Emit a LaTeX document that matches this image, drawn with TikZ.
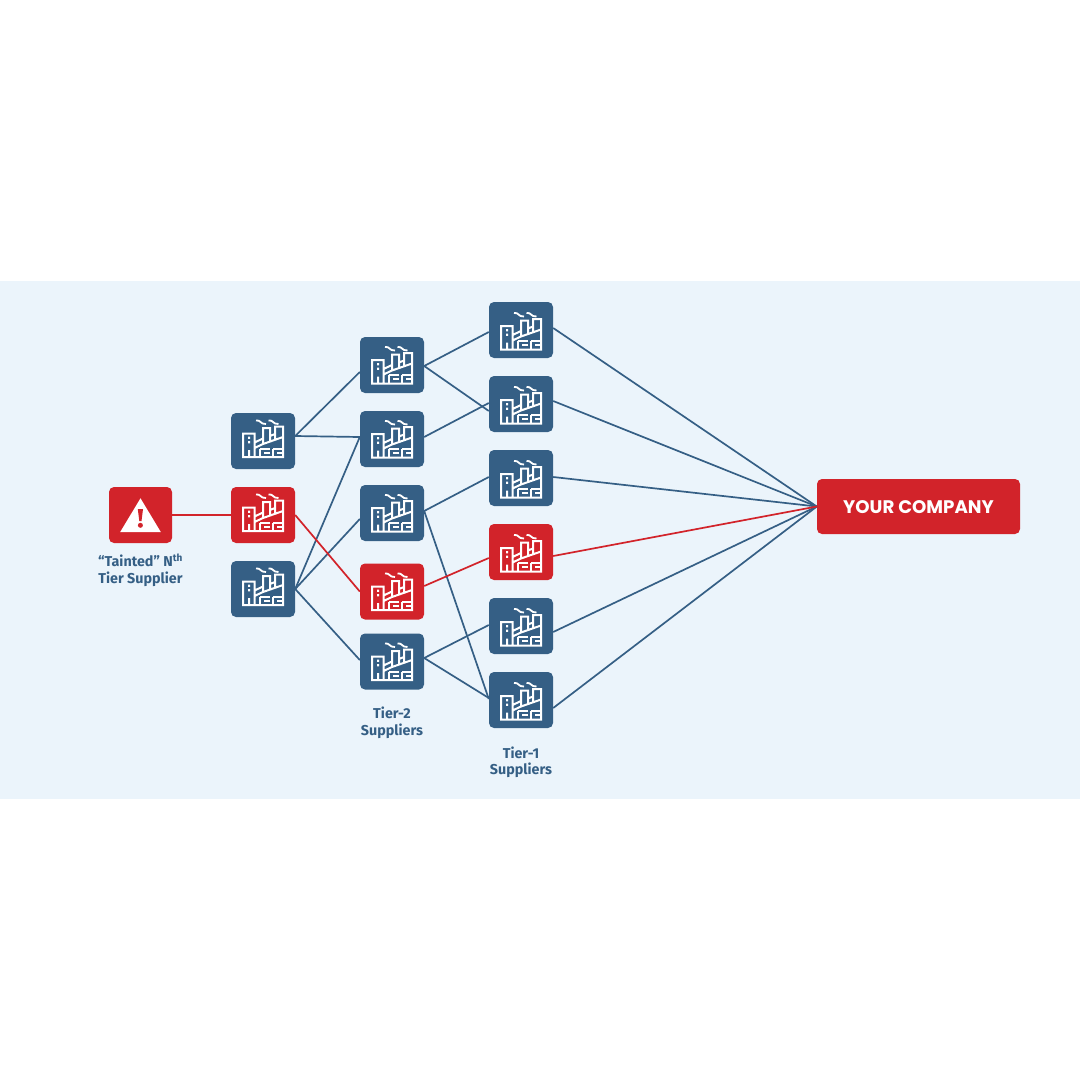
\documentclass[tikz,border=0pt]{standalone}
\usepackage{fontspec}
\setmainfont{Fira Sans}
\newfontfamily\companyfont{Poppins}
\usetikzlibrary{positioning}
\definecolor{supblue}{HTML}{355F85}
\definecolor{supred}{HTML}{D2232A}
\definecolor{panelbg}{HTML}{EBF4FB}
\tikzset{
  factory/.pic={
    \draw[white, line width=2pt, line join=miter]
      (-8.5,16) -- (-20,16) -- (-20,-7.5) -- (-8.5,-7.5) -- (-8.5,16) -- (20,16) -- (20,-14.5) -- (12,-14.5) -- (12,-1)
      (-8.5,7) -- (0,3) -- (0,-13) -- (7,-13) -- (7,0.5)
      (0,3) -- (20,-4)
      (-8.5,1.5) -- (0,-2.5) (7,-5) -- (12,-7)
      (-14,16) -- (-14,9);
    % two rows of strokes make the window shapes
    \draw[white, line width=2pt]
      (7,7.5) -- (-3,7.5) (7,11.8) -- (1,11.8)
      (20,7.5) -- (9.5,7.5) (20,11.8) -- (14,11.8)
      (-3,7.5) -- (-3,16) (9.5,7.5) -- (9.5,16);
    \fill[white] (-15,0) rectangle (-13,2.4) (-15,-4.5) rectangle (-13,-2.1);
    \draw[white, line width=1.8pt]
      (-7,-20.5) .. controls (-2,-21.5) and (-3,-16.5) .. (3,-17)
      (5.5,-20.5) .. controls (10.5,-21.5) and (9.5,-16.5) .. (15.5,-17);
  },
  supplier/.style={draw=none, fill=supblue, rounded corners=5pt, minimum width=64pt, minimum height=56pt, inner sep=0pt},
  tainted/.style={supplier, fill=supred},
  tierlabel/.style={font=\fontsize{14.3}{16.5}\selectfont\bfseries, text=supblue, align=center},
  link/.style={draw=supblue, line width=1.7pt},
  redlink/.style={draw=supred, line width=1.7pt}
}
\begin{document}
\begin{tikzpicture}[x=1pt, y=-1pt]
  \useasboundingbox (0,0) rectangle (1080,1080);
  \fill[white] (0,0) rectangle (1080,1080);
  \fill[panelbg] (0,281) rectangle (1080,798.5);
  % warning box on the left, then the columns of suppliers
  \node[tainted, minimum width=63pt] (warn) at (140.5,515) {};
  \foreach \name/\xx/\yy/\sty in {a1/263/441/supplier, a2/263/515/tainted, a3/263/589/supplier,
      b1/392/365/supplier, b2/392/439/supplier, b3/392/513/supplier, b4/392/591.5/tainted, b5/392/661.5/supplier,
      c1/521/330/supplier, c2/521/404/supplier, c3/521/478/supplier, c4/521/552/tainted, c5/521/626/supplier, c6/521/700/supplier}
    \node[\sty] (\name) at (\xx,\yy) {};
  \node[tainted, minimum width=203pt, minimum height=55pt] (company) at (918.5,506.5) {};
  \coordinate (hub) at (company.west);
  % links, blue first so that the red ones stay on top
  \foreach \p/\pshift/\q/\qshift in {a1/5/b1/-7, a1/5/b2/2, a3/0/b2/2, a3/0/b3/-6, a3/0/b5/1.5,
      b1/-1/c1/-2, b1/-1/c2/-7, b2/2/c2/1, b3/2/c3/1, b3/2/c6/1, b5/3.5/c5/1, b5/3.5/c6/2}
    \draw[link] ([yshift=\pshift pt]\p.east) -- ([yshift=\qshift pt]\q.west);
  \foreach \q/\qshift in {c1/2, c2/3, c3/1, c5/-6, c6/-8}
    \draw[link] ([yshift=\qshift pt]\q.east) -- (hub);
  \draw[redlink] (warn.east) -- (a2.west);
  \draw[redlink] (a2.east) -- (b4.west);
  \draw[redlink] ([yshift=5.5pt]b4.east) -- ([yshift=-6pt]c4.west);
  \draw[redlink] ([yshift=-4pt]c4.east) -- (hub);
  % icons
  \foreach \name/\drop in {a1/0,a2/0,a3/0,b1/2.5,b2/2.5,b3/2.5,b4/2.5,b5/2.5,c1/3.5,c2/3.5,c3/3.5,c4/3.5,c5/3.5,c6/3.5}
    \pic at ([yshift=-\drop pt]\name) {factory};
  \fill[white] (140.5,498.3) -- (160.8,532) -- (120.2,532) -- cycle;
  \fill[supred] (137.8,509) -- (143,509) -- (141.5,521) -- (139.3,521) -- cycle;
  \fill[supred] (140.4,525.3) circle (2.5pt);
  \node[font=\companyfont\fontsize{18.2}{20}\selectfont\bfseries, text=white, yshift=-1pt] (companytext) at (company) {YOUR COMPANY};
  \node[tierlabel, below=7pt of warn] (warnlabel) {“Tainted” N\textsuperscript{th}\\Tier Supplier};
  \node[tierlabel, below=14pt of b5] (tiertwo) {Tier-2\\Suppliers};
  \node[tierlabel, below=15pt of c6] (tierone) {Tier-1\\Suppliers};
\end{tikzpicture}
\end{document}
